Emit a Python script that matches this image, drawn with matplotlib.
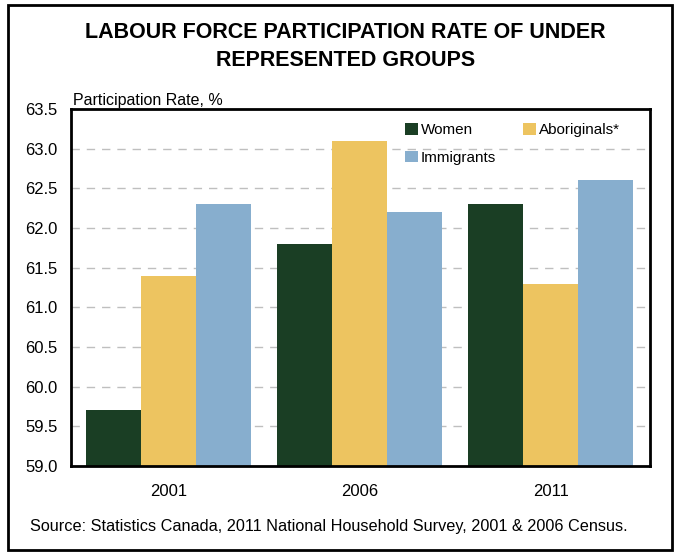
import matplotlib

matplotlib.use("Agg")

import matplotlib.pyplot as plt
import numpy as np
from matplotlib.patches import Rectangle

plt.rcParams["font.family"] = ["Liberation Sans", "DejaVu Sans"]

years = ["2001", "2006", "2011"]
groups = ["Women", "Aboriginals*", "Immigrants"]
women = [59.7, 61.8, 62.3]
aboriginals = [61.4, 63.1, 61.3]
immigrants = [62.3, 62.2, 62.6]
colors = ["#1A3E24", "#EDC460", "#87AECE"]
yticks = np.arange(59.0, 63.51, 0.5)

fig = plt.figure(figsize=(6.81, 5.54), dpi=100)
ax = fig.add_axes([71 / 681, 1 - 466 / 554, (650 - 71) / 681, (466 - 109) / 554])

x = np.arange(len(years))
width = 0.288
bars = []
for i, (vals, label) in enumerate(zip([women, aboriginals, immigrants], groups)):
    bars.append(ax.bar(x + (i - 1) * width, vals, width, color=colors[i], label=label, zorder=2))

ax.set_ylim(59.0, 63.5)
ax.set_xlim(-0.51, 2.52)
ax.set_yticks(yticks)
ax.set_yticklabels([f"{v:.1f}" for v in yticks], fontsize=12)
ax.set_xticks(x)
ax.set_xticklabels(years, fontsize=12)
ax.tick_params(axis="both", length=0)
ax.tick_params(axis="x", pad=13)
ax.tick_params(axis="y", pad=9.5)
for v in yticks[1:-1]:
    ax.axhline(v, color="#BFBFBF", linestyle=(0, (6, 5)), linewidth=1, zorder=1)
for s in ax.spines.values():
    s.set_linewidth(2)

# row-wise legend order: Women, Aboriginals* / Immigrants
order = [0, 2, 1]
ax.legend([bars[i] for i in order], [groups[i] for i in order],
          loc="upper left", bbox_to_anchor=(405 / 681, 1 - 123 / 554),
          bbox_transform=fig.transFigure, ncol=2, frameon=False, fontsize=11,
          borderpad=0, borderaxespad=0,
          handlelength=0.85, handleheight=0.8, handletextpad=0.2,
          columnspacing=1.75, labelspacing=0.88)

fig.text(0.507, 1 - 32 / 554, "LABOUR FORCE PARTICIPATION RATE OF UNDER",
         ha="center", va="center", fontsize=15.5, fontweight="bold")
fig.text(0.507, 1 - 61 / 554, "REPRESENTED GROUPS",
         ha="center", va="center", fontsize=15.5, fontweight="bold")
fig.text(73 / 681, 1 - 100 / 554, "Participation Rate, %", ha="left", va="center", fontsize=11.5)
fig.text(30 / 681, 1 - 527 / 554, "Source: Statistics Canada, 2011 National Household Survey, 2001 & 2006 Census.",
         ha="left", va="center", fontsize=11.7)

fig.patches.append(Rectangle((8 / 681, 4 / 554), 664 / 681, 545 / 554, transform=fig.transFigure,
                             fill=False, edgecolor="black", linewidth=2))

fig.savefig("out.png", dpi=100)
